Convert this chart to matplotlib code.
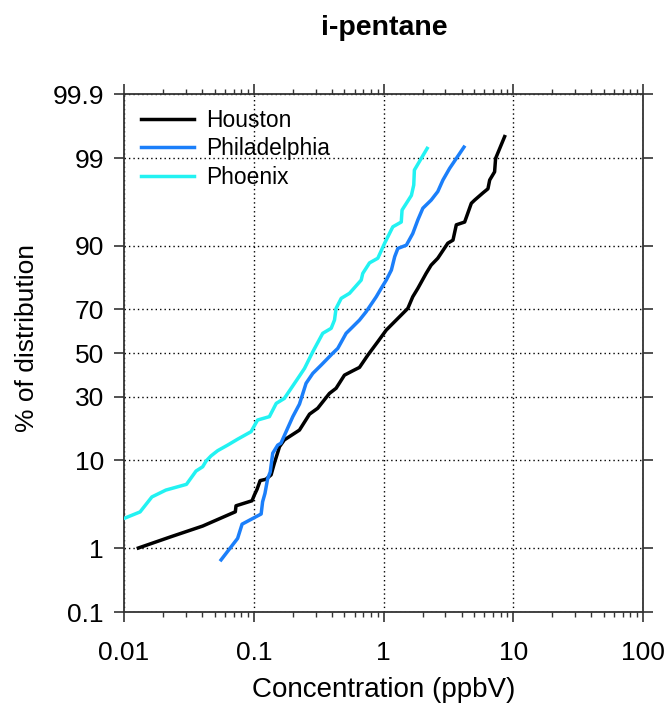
import math
import numpy as np
import matplotlib
matplotlib.use('Agg')
import matplotlib.pyplot as plt
from matplotlib.ticker import FixedLocator, NullLocator, LogLocator, NullFormatter

plt.rcParams['font.family'] = ['Liberation Sans', 'DejaVu Sans']

# cumulative distributions (concentration ppbV, % of distribution)
houston_conc = [0.0129, 0.023, 0.0404, 0.0721, 0.073, 0.097, 0.101, 0.106, 0.112, 0.124,
                0.136, 0.144, 0.158, 0.172, 0.225, 0.269, 0.311, 0.383, 0.431, 0.50,
                0.579, 0.653, 0.757, 0.904, 1.05, 1.18, 1.37, 1.54, 1.68, 1.84,
                2.13, 2.33, 2.62, 3.13, 3.43, 3.64, 4.22, 4.75, 5.04, 5.84,
                6.38, 6.58, 7.18, 7.31, 8.58]
houston_pct = [1.0, 1.42, 1.95, 2.91, 3.42, 3.9, 4.5, 5.2, 6.4, 6.6,
               7.3, 9.4, 13.2, 15.0, 17.9, 23.3, 25.5, 31.5, 33.7, 39.6,
               41.6, 43.2, 49.0, 55.4, 60.8, 63.8, 67.5, 70.3, 74.9, 78.0,
               82.9, 85.3, 87.1, 90.5, 91.1, 93.7, 94.1, 96.3, 96.6, 97.2,
               97.5, 98.05, 98.47, 98.99, 99.51]

phila_conc = [0.056, 0.0751, 0.0813, 0.114, 0.117, 0.122, 0.128, 0.134, 0.140, 0.153,
              0.162, 0.200, 0.225, 0.253, 0.285, 0.331, 0.406, 0.444, 0.515, 0.566,
              0.653, 0.735, 0.879, 0.960, 1.05, 1.15, 1.22, 1.29, 1.50, 1.68,
              1.84, 2.01, 2.33, 2.62, 2.87, 3.23, 4.17]
phila_pct = [0.68, 1.35, 2.06, 2.74, 3.8, 4.7, 6.7, 7.8, 11.6, 13.6,
             14.1, 22.4, 27.1, 35.9, 40.4, 44.3, 49.9, 52.2, 59.3, 61.7,
             65.3, 68.9, 74.9, 78.0, 80.8, 83.9, 87.5, 89.4, 90.1, 92.3,
             94.4, 95.8, 96.6, 97.3, 98.05, 98.62, 99.30]

phoenix_conc = [0.00986, 0.0133, 0.0164, 0.021, 0.0303, 0.0359, 0.0404, 0.0429, 0.0469, 0.0527,
                0.0629, 0.0751, 0.0953, 0.107, 0.132, 0.149, 0.172, 0.225, 0.246, 0.285,
                0.340, 0.395, 0.419, 0.431, 0.472, 0.547, 0.673, 0.692, 0.780, 0.904,
                1.02, 1.18, 1.37, 1.39, 1.64, 1.71, 1.73, 2.17]
phoenix_pct = [2.4, 2.9, 4.3, 5.1, 5.86, 7.96, 8.74, 9.87, 11.0, 12.2,
               13.6, 15.2, 17.4, 21.2, 22.4, 27.4, 29.4, 39.2, 42.7, 50.6,
               59.3, 61.6, 65.3, 70.3, 74.3, 76.2, 80.8, 82.9, 85.9, 87.1,
               90.5, 93.4, 94.1, 95.6, 97.0, 97.75, 98.55, 99.27]

y_ticks = [0.1, 1, 10, 30, 50, 70, 90, 99, 99.9]
y_tick_labels = ['0.1', '1', '10', '30', '50', '70', '90', '99', '99.9']
x_ticks = [0.01, 0.1, 1, 10, 100]
x_tick_labels = ['0.01', '0.1', '1', '10', '100']

# normal probability scale (Acklam's inverse normal approximation)
A = [-3.969683028665376e+01, 2.209460984245205e+02, -2.759285104469687e+02,
     1.383577518672690e+02, -3.066479806614716e+01, 2.506628277459239e+00]
B = [-5.447609879822406e+01, 1.615858368580409e+02, -1.556989798598866e+02,
     6.680131188771972e+01, -1.328068155288572e+01, 1.0]
C = [-7.784894002430293e-03, -3.223964580411365e-01, -2.400758277161838e+00,
     -2.549671348464032e+00, 4.374664141464968e+00, 2.938163982698783e+00]
D = [7.784695709041462e-03, 3.224671290700398e-01, 2.445134137142996e+00,
     3.754408661907416e+00, 1.0]
PLOW = 0.02425


def probit(pct):
    arr = np.asarray(pct, dtype=float)
    p = np.clip(arr.ravel() / 100.0, 1e-10, 1 - 1e-10)
    z = np.empty_like(p)
    lo = p < PLOW
    hi = p > 1 - PLOW
    mid = ~(lo | hi)
    q = np.sqrt(-2 * np.log(p[lo]))
    z[lo] = np.polyval(C, q) / np.polyval(D, q)
    q = np.sqrt(-2 * np.log(1 - p[hi]))
    z[hi] = -np.polyval(C, q) / np.polyval(D, q)
    q = p[mid] - 0.5
    r = q * q
    z[mid] = np.polyval(A, r) * q / np.polyval(B, r)
    return z.reshape(arr.shape)


_erf = np.vectorize(math.erf)


def norm_cdf(z):
    arr = np.asarray(z, dtype=float)
    return 50.0 * (1 + _erf(arr / math.sqrt(2)))


fig = plt.figure(figsize=(6.71, 7.12), dpi=100)
ax = fig.add_axes([0.1848, 0.1404, 0.7735, 0.7275])

ax.set_xscale('log')
ax.set_yscale('function', functions=(probit, norm_cdf))

ax.plot(houston_conc, houston_pct, color='#000000', lw=2.5, label='Houston', zorder=3)
ax.plot(phila_conc, phila_pct, color='#1b7ffa', lw=2.5, label='Philadelphia', zorder=3)
ax.plot(phoenix_conc, phoenix_pct, color='#22f2f2', lw=2.5, label='Phoenix', zorder=3)

ax.set_xlim(0.01, 100)
ax.set_ylim(0.1, 99.9)

ax.yaxis.set_major_locator(FixedLocator(y_ticks))
ax.yaxis.set_minor_locator(NullLocator())
ax.set_yticklabels(y_tick_labels)
ax.xaxis.set_major_locator(FixedLocator(x_ticks))
ax.xaxis.set_minor_locator(LogLocator(base=10, subs=np.arange(2, 10), numticks=20))
ax.xaxis.set_minor_formatter(NullFormatter())
ax.set_xticklabels(x_tick_labels)

ax.grid(True, which='major', color='black', linestyle=(0, (1, 2.2)), lw=1.0)
ax.tick_params(which='both', direction='out', top=True, right=True, color='#333333')
ax.tick_params(which='major', length=7.5, width=1.2, labelsize=19)
ax.tick_params(which='minor', length=3.8, width=1.0)
ax.tick_params(axis='y', pad=7)
ax.tick_params(axis='x', pad=13)
for s in ax.spines.values():
    s.set_linewidth(1.3)
    s.set_color('#333333')

ax.legend(loc='upper left', bbox_to_anchor=(0.033, 0.972), frameon=False, fontsize=16.4,
          handlelength=2.3, handletextpad=0.55, labelspacing=0.25, borderpad=0, borderaxespad=0)

fig.text(384 / 671, 1 - 28 / 712, 'i-pentane', ha='center', va='center', fontsize=20.5, fontweight='bold')
fig.text(384 / 671, 1 - 690 / 712, 'Concentration (ppbV)', ha='center', va='center', fontsize=20)
fig.text(27 / 671, 1 - 338 / 712, '% of distribution', ha='center', va='center', rotation=90, fontsize=19)

fig.savefig('out.png', dpi=100)
